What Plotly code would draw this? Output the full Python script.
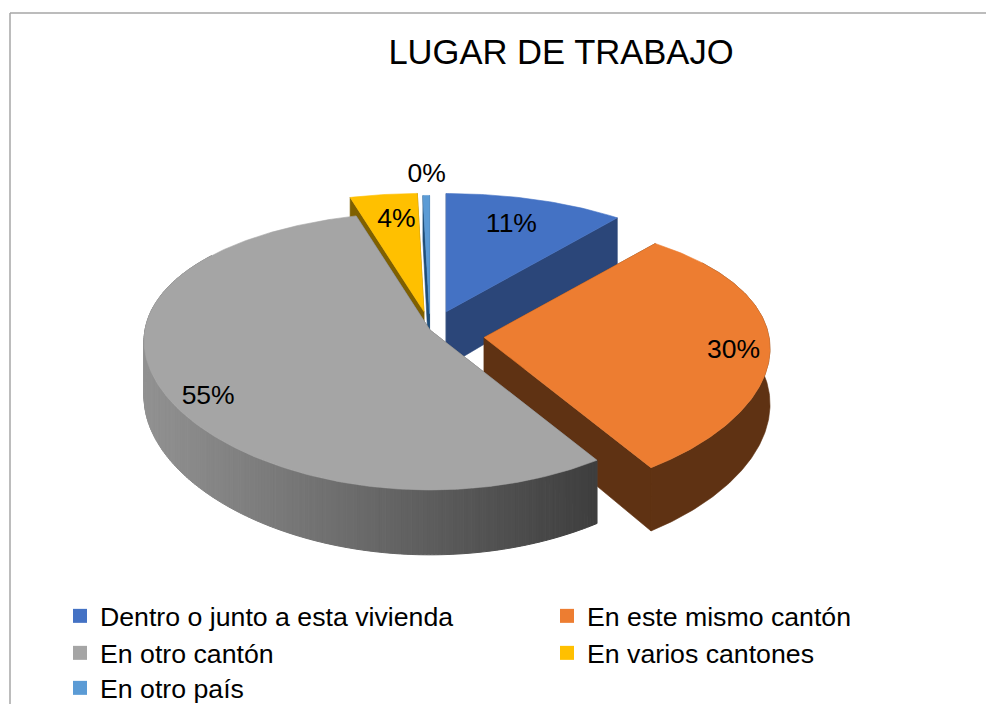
import math
import plotly.graph_objects as go

TITLE = "LUGAR DE TRABAJO"
CATEGORIES = ["Dentro o junto a esta vivienda", "En este mismo cantón", "En otro cantón",
              "En varios cantones", "En otro país"]
SHARES = [11.0, 29.8, 54.7, 4.1, 0.4]

COLORS = ["#4472C4", "#ED7D31", "#A5A5A5", "#FFC000", "#5B9BD5"]
WALLS = ["#2B4679", "#5F3213", "#555555", "#7F6000", "#1F4E79"]
PULL = [0.17, 0.19, 0.0, 0.14, 0.13]
SLICE_SHIFT_Y = [3, 6, 0, 0, 1]
LABEL_R = [0.70, 0.88, 0.84, 0.84, 1.18]
LABEL_SHIFT = [(1, -2), (-2, 13), (2, 17), (7, 9), (1, -1)]
DRAW_ORDER = [0, 4, 3, 1, 2]
LEGEND_X = [60, 547, 60, 547, 60]
LEGEND_Y = [616, 616, 653, 653, 688]

FONT = "Liberation Sans"
W, H = 986, 704
CX, CY, R, A, KX, KY, DEPTH, KZ = 430, 330, 285, 0.477, 0.08, 0.15, 55, 0.18


def proj(x, y, low=False):
    sx = CX + R * x / (1 + KX * y)
    sy = CY - R * A * y / (1 + KY * y)
    if low:
        sy += DEPTH * (1 - KZ * y)
    return sx, sy


fig = go.Figure()


def poly(pts, color, lw=0.6):
    fig.add_trace(go.Scatter(x=[p[0] for p in pts] + [pts[0][0]], y=[p[1] for p in pts] + [pts[0][1]],
                             mode="lines", fill="toself", fillcolor=color,
                             line=dict(color=color, width=lw), showlegend=False, hoverinfo="skip"))


total = sum(SHARES)
starts = [sum(SHARES[:i]) / total * 2 * math.pi for i in range(len(SHARES))]
ends = [sum(SHARES[:i + 1]) / total * 2 * math.pi for i in range(len(SHARES))]

for i in DRAW_ORDER:
    t0, t1 = starts[i], ends[i]
    mid = (t0 + t1) / 2
    ax, ay = proj(PULL[i] * math.sin(mid), PULL[i] * math.cos(mid))
    dy = SLICE_SHIFT_Y[i]

    def pt(x, y, low=False):
        sx, sy = proj(x, y, low)
        return sx - CX + ax, sy - CY + ay + dy

    n = max(3, int((t1 - t0) / 0.012))
    ts = [t0 + (t1 - t0) * k / n for k in range(n + 1)]
    disc = [(math.sin(t), math.cos(t)) for t in ts]
    # cut faces
    for edge in (disc[0], disc[-1]):
        poly([pt(0, 0), pt(*edge), pt(*edge, low=True), pt(0, 0, low=True)], WALLS[i])
    # outer wall
    front = [p for p in disc if p[1] < 0.6]
    if i == 2:
        for a, b in zip(front[:-1], front[1:]):
            if b[0] < a[0]:
                a, b = b, a
            f = min(1, max(0, (pt(*a)[0] - 143) / (595 - 143)))
            g = round(146 - (146 - 62) * f)
            col = f"rgb({g},{g},{g})"
            poly([pt(*a), pt(*b), pt(*b, low=True), pt(*a, low=True)], col, lw=1)
    elif front:
        poly([pt(*p) for p in front] + [pt(*p, low=True) for p in reversed(front)], WALLS[i])
    # top face
    poly([pt(0, 0)] + [pt(*p) for p in disc], COLORS[i])

# percentage labels, rounded from the shares
lx, ly, lt = [], [], []
for i, v in enumerate(SHARES):
    mid = (starts[i] + ends[i]) / 2
    ax, ay = proj(PULL[i] * math.sin(mid), PULL[i] * math.cos(mid))
    sx, sy = proj(LABEL_R[i] * math.sin(mid), LABEL_R[i] * math.cos(mid))
    lx.append(sx - CX + ax + LABEL_SHIFT[i][0])
    ly.append(sy - CY + ay + LABEL_SHIFT[i][1])
    lt.append(f"{round(v)}%")
fig.add_trace(go.Scatter(x=lx, y=ly, text=lt, mode="text", textposition="middle center",
                         textfont=dict(family=FONT, size=26.5, color="#000000"),
                         showlegend=False, hoverinfo="skip"))

# legend: two columns in three rows, one legend box per entry
LEGEND_IDS = ["legend", "legend2", "legend3", "legend4", "legend5"]
for i, name in enumerate(CATEGORIES):
    fig.add_trace(go.Scatter(x=[None], y=[None], mode="markers", name=name, legend=LEGEND_IDS[i],
                             marker=dict(symbol="square", size=14, color=COLORS[i])))

legend_layout = {
    LEGEND_IDS[i]: dict(orientation="h", x=LEGEND_X[i] / W, xanchor="left",
                        y=1 - LEGEND_Y[i] / H, yanchor="middle",
                        font=dict(family=FONT, size=26.7, color="#000000"),
                        bgcolor="rgba(0,0,0,0)", itemsizing="trace")
    for i in range(len(CATEGORIES))
}

fig.update_layout(
    width=W, height=H, margin=dict(l=0, r=0, t=0, b=0, autoexpand=False),
    paper_bgcolor="#FFFFFF", plot_bgcolor="#FFFFFF",
    xaxis=dict(range=[0, W], visible=False, fixedrange=True),
    yaxis=dict(range=[H, 0], visible=False, fixedrange=True),
    title=dict(text=TITLE, x=561 / W, xanchor="center", y=1 - 52 / H, yanchor="middle",
               font=dict(family=FONT, size=34.6, color="#000000")),
    shapes=[
        dict(type="line", xref="x", yref="y", x0=10, x1=10, y0=13, y1=H, line=dict(color="#A6A6A6", width=1.5)),
        dict(type="line", xref="x", yref="y", x0=10, x1=W, y0=13, y1=13, line=dict(color="#A6A6A6", width=1.5)),
    ],
    **legend_layout,
)
fig.write_html("out.html", post_script="document.body.style.margin='0';", config=dict(displayModeBar=False))
